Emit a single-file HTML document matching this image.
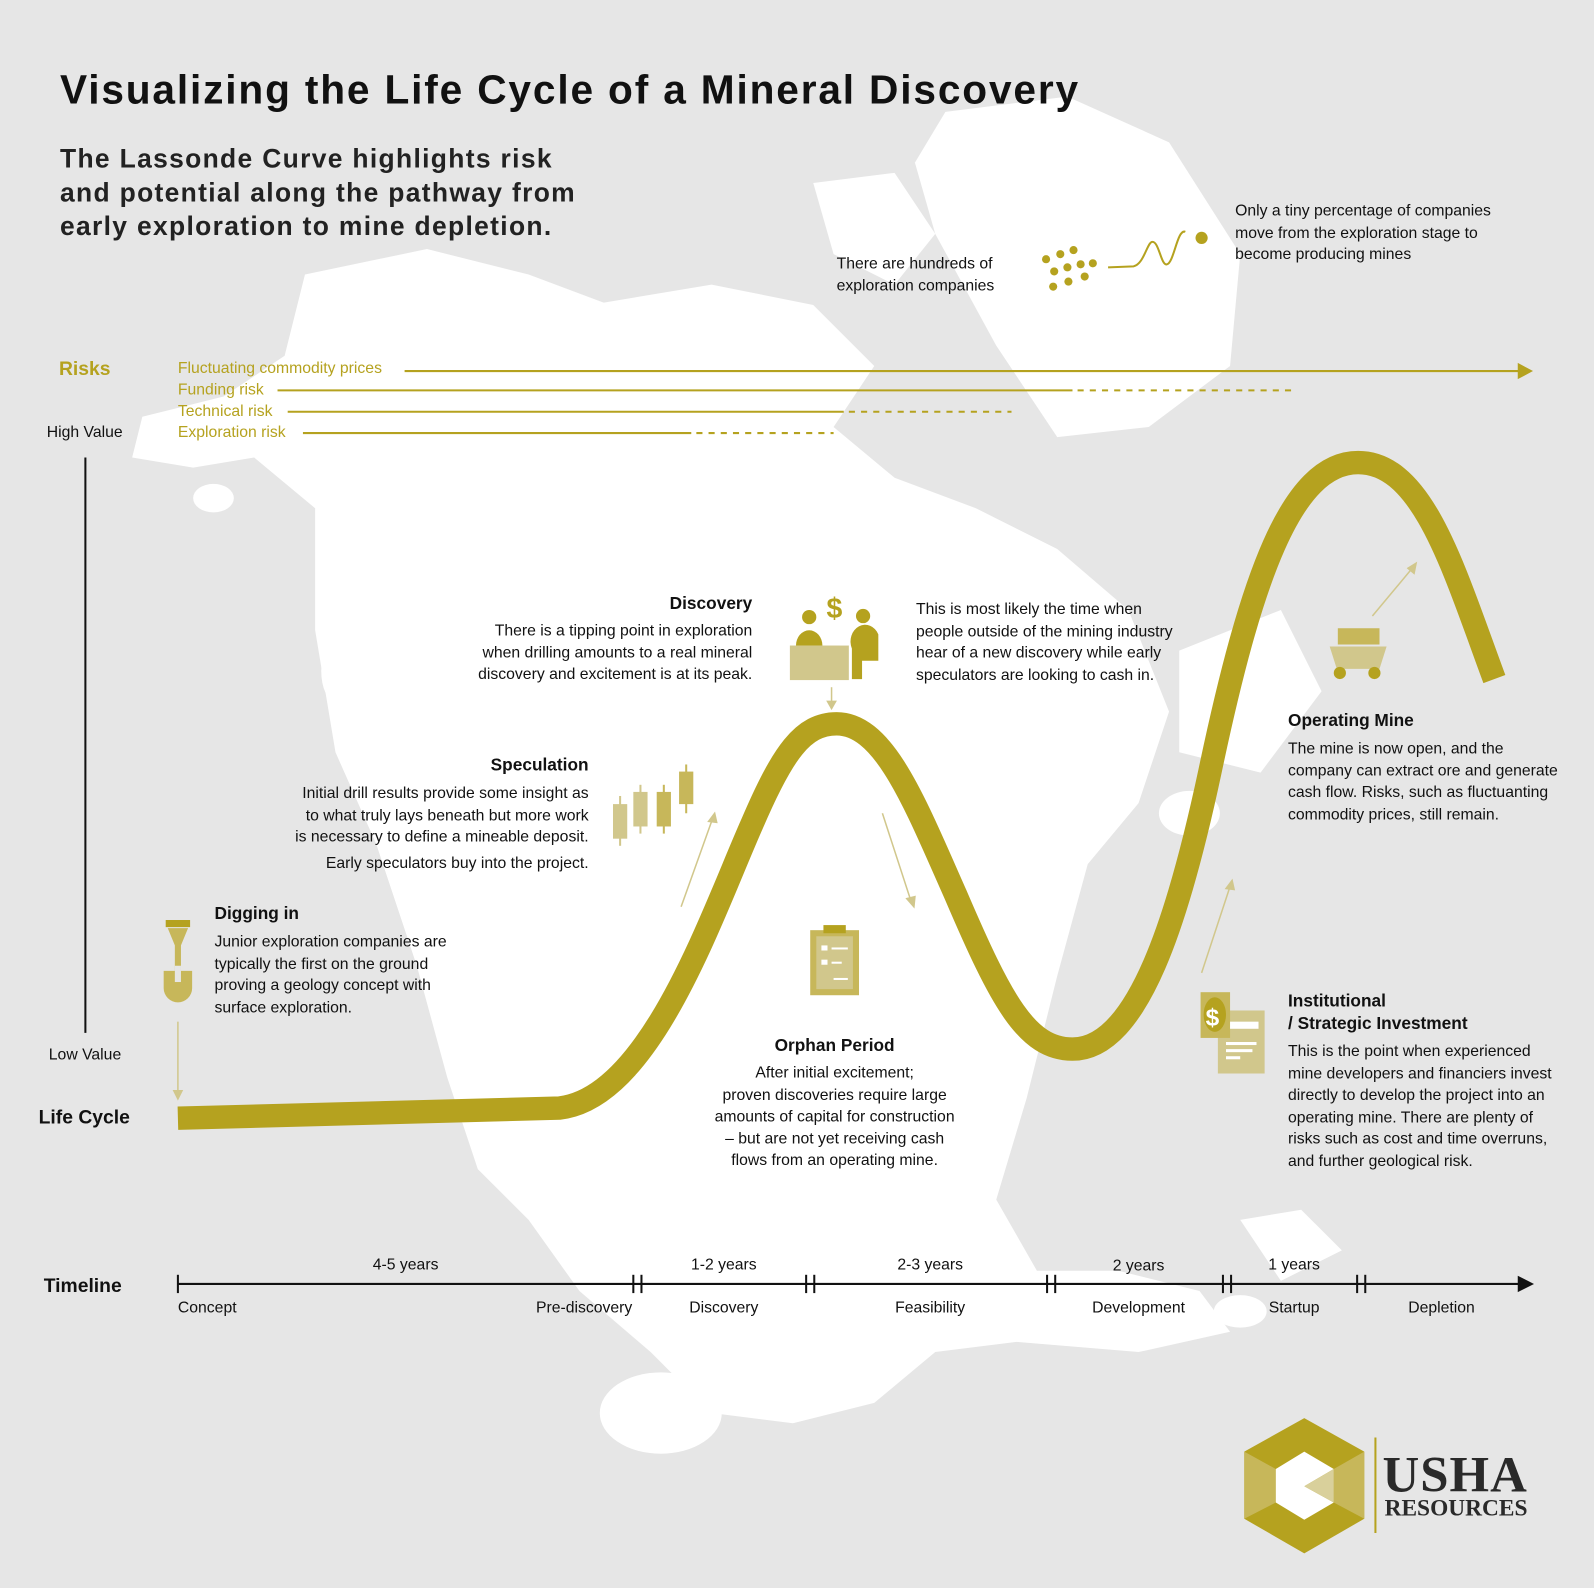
<!DOCTYPE html>
<html><head><meta charset="utf-8"><style>
html,body{margin:0;padding:0;background:#e6e6e6;}
body{width:1594px;height:1588px;overflow:hidden;position:relative;}
#f{position:absolute;left:0;top:0;width:1568px;height:1562px;transform:scale(1.01658);transform-origin:0 0;font-family:"Liberation Sans",sans-serif;color:#111;}
.t{position:absolute;white-space:nowrap;font-size:15.5px;line-height:21.5px;}
.r{text-align:right;}
.c{text-align:center;}
.h{font-weight:bold;font-size:17px;}
.g{color:#b5a21f;}
</style></head><body><div id="f">
<svg width="1568" height="1562" style="position:absolute;left:0;top:0">
<g fill="#fff">
<path d="M300,270 L420,245 L520,270 L600,300 L680,320 L760,360 L820,420 L880,470 L960,500 L1040,540 L1110,600 L1150,700 L1120,790 L1070,850 L1040,960 L1010,1080 L980,1180 L1020,1250 L1100,1250 L1180,1270 L1210,1310 L1120,1330 L1000,1320 L920,1330 L860,1380 L780,1400 L700,1390 L640,1330 L570,1270 L520,1200 L470,1150 L440,1060 L410,950 L370,830 L330,740 L310,620 L310,500 L250,450 L190,460 L130,450 L140,410 L220,390 L280,350 Z"/>
<path d="M930,110 L1050,95 L1150,140 L1220,250 L1210,360 L1130,420 L1040,430 L980,340 L920,230 L900,160 Z"/>
<path d="M580,300 L700,280 L800,300 L860,360 L820,420 L700,380 L600,360 Z"/>
<path d="M800,180 L880,170 L920,230 L880,280 L820,250 Z"/>
<path d="M1160,640 L1260,600 L1300,680 L1240,760 L1160,740 Z"/>
<path d="M1220,1200 L1280,1190 L1320,1230 L1260,1260 Z"/>
<ellipse cx="650" cy="1390" rx="60" ry="40"/>
<ellipse cx="330" cy="660" rx="14" ry="30"/>
<ellipse cx="210" cy="490" rx="20" ry="14"/>
<ellipse cx="1170" cy="800" rx="30" ry="22"/>
<ellipse cx="1220" cy="1290" rx="26" ry="16"/>
</g>
<g stroke="#b5a21f" stroke-width="2" fill="none">
<line x1="398" y1="365" x2="1495" y2="365"/>
<line x1="273" y1="384" x2="1055" y2="384"/>
<line x1="1060" y1="384" x2="1270" y2="384" stroke-dasharray="6,6"/>
<line x1="283" y1="405" x2="830" y2="405"/>
<line x1="835" y1="405" x2="995" y2="405" stroke-dasharray="6,6"/>
<line x1="298" y1="426" x2="680" y2="426"/>
<line x1="685" y1="426" x2="820" y2="426" stroke-dasharray="6,6"/>
<path d="M1090,263 L1115,262 C1125,260 1128,240 1133,238 C1140,236 1142,262 1148,260 C1155,258 1158,225 1166,228"/>
</g>
<polygon points="1493,357 1508,365 1493,373" fill="#b5a21f"/>
<g fill="#b5a21f"><circle cx="1182" cy="234" r="6"/>
<circle cx="1029" cy="255" r="4"/><circle cx="1043" cy="250" r="4"/><circle cx="1056" cy="246" r="4"/><circle cx="1037" cy="267" r="4"/><circle cx="1050" cy="263" r="4"/><circle cx="1063" cy="260" r="4"/><circle cx="1075" cy="259" r="4"/><circle cx="1036" cy="282" r="4"/><circle cx="1051" cy="277" r="4"/><circle cx="1067" cy="272" r="4"/></g>
<line x1="84" y1="450" x2="84" y2="1016" stroke="#111" stroke-width="2"/>
<path d="M175,1100 L550,1090 C640,1080 700,900 740,810 C770,740 790,712 823,712 C870,712 900,790 940,880 C985,985 1010,1032 1055,1032 C1120,1032 1160,900 1190,760 C1230,570 1270,455 1336,455 C1400,455 1430,560 1470,668" fill="none" stroke="#b5a21f" stroke-width="23"/>
<g stroke="#d1c78c" stroke-width="1.5" fill="#d1c78c">
<line x1="175" y1="1005" x2="175" y2="1075"/><polygon points="171,1073 179,1073 175,1081"/>
<line x1="670" y1="892" x2="700" y2="808"/><polygon points="697,808 705,809 703,800"/>
<line x1="818" y1="676" x2="818" y2="692"/><polygon points="814,690 822,690 818,697"/>
<line x1="868" y1="800" x2="896" y2="886"/><polygon points="892,884 900,882 899,892"/>
<line x1="1182" y1="957" x2="1210" y2="872"/><polygon points="1206,874 1214,875 1212,866"/>
<line x1="1350" y1="606" x2="1390" y2="558"/><polygon points="1385,559 1391,564 1393,554"/>
</g>
<g fill="#c7b75a"><rect x="163" y="905" width="24" height="7" fill="#b5a21f"/><polygon points="165,913 185,913 178,930 178,955 172,955 172,930"/><path d="M161,955 L189,955 L189,972 A14,14 0 0 1 161,972Z"/><rect x="172" y="950" width="6" height="16" fill="#e6e6e6"/></g>
<g fill="#d1c78c" stroke="#d1c78c" stroke-width="2"><line x1="610" y1="783" x2="610" y2="832"/><rect x="604" y="792" width="12" height="32"/><line x1="630" y1="772" x2="630" y2="820"/><rect x="624" y="780" width="12" height="32"/></g>
<g fill="#c7b75a" stroke="#c7b75a" stroke-width="2"><line x1="653" y1="772" x2="653" y2="820"/><rect x="647" y="780" width="12" height="32"/><line x1="675" y1="752" x2="675" y2="800"/><rect x="669" y="760" width="12" height="30"/></g>
<g fill="#b5a21f"><circle cx="796" cy="607" r="7"/><path d="M783,635 A13,15 0 0 1 809,635Z"/><circle cx="849" cy="606" r="7"/><path d="M838,638 A14,16 0 0 1 864,624 L864,650 L848,650 L848,668 L838,668Z"/></g>
<rect x="777" y="635" width="58" height="34" fill="#d1c78c"/><rect x="826" y="620" width="8" height="15" fill="#fff"/>
<text x="813" y="608" font-family="Liberation Sans" font-size="28" fill="#b5a21f" font-weight="bold">$</text>
<rect x="797" y="915" width="48" height="64" fill="#c7b75a"/><rect x="803" y="921" width="36" height="52" fill="#d1c78c"/><rect x="810" y="910" width="22" height="8" fill="#b5a21f"/>
<g fill="#fff"><rect x="808" y="930" width="6" height="5"/><rect x="818" y="932" width="16" height="2"/><rect x="808" y="944" width="6" height="5"/><rect x="818" y="946" width="10" height="2"/><rect x="820" y="962" width="14" height="2"/></g>
<rect x="1198" y="994" width="46" height="62" fill="#d1c78c"/><rect x="1181" y="976" width="29" height="45" fill="#c7b75a"/><ellipse cx="1195" cy="998" rx="11" ry="17" fill="#b5a21f"/>
<text x="1186" y="1009" font-family="Liberation Sans" font-size="24" font-weight="bold" fill="#fff">$</text>
<g fill="#fff"><rect x="1210" y="1005" width="28" height="7"/><rect x="1206" y="1025" width="30" height="3"/><rect x="1206" y="1032" width="26" height="3"/><rect x="1206" y="1039" width="14" height="3"/></g>
<rect x="1316" y="618" width="41" height="16" fill="#c7b75a"/><polygon points="1308,636 1364,636 1357,658 1315,658" fill="#d1c78c"/><circle cx="1318" cy="662" r="6" fill="#b5a21f"/><circle cx="1352" cy="662" r="6" fill="#b5a21f"/>
<g stroke="#111" stroke-width="2"><line x1="175" y1="1263" x2="1495" y2="1263"/><line x1="175" y1="1254" x2="175" y2="1272"/>
<line x1="623" y1="1254" x2="623" y2="1272"/><line x1="631" y1="1254" x2="631" y2="1272"/>
<line x1="793" y1="1254" x2="793" y2="1272"/><line x1="801" y1="1254" x2="801" y2="1272"/>
<line x1="1030" y1="1254" x2="1030" y2="1272"/><line x1="1038" y1="1254" x2="1038" y2="1272"/>
<line x1="1203" y1="1254" x2="1203" y2="1272"/><line x1="1211" y1="1254" x2="1211" y2="1272"/>
<line x1="1335" y1="1254" x2="1335" y2="1272"/><line x1="1343" y1="1254" x2="1343" y2="1272"/></g>
<polygon points="1493,1255 1509,1263 1493,1271" fill="#111"/>
<polygon points="1283,1395 1342,1428 1342,1494 1283,1528 1224,1494 1224,1428" fill="#b5a21f"/>
<polygon points="1224,1428 1255,1445 1255,1478 1224,1494" fill="#c7b75a"/>
<polygon points="1342,1428 1312,1445 1312,1478 1342,1494" fill="#c7b75a"/>
<polygon points="1283,1428 1312,1445 1283,1462 1312,1478 1283,1495 1255,1478 1255,1445" fill="#fff"/>
<polygon points="1283,1462 1312,1445 1312,1478" fill="#d9d09b"/>
<line x1="1353" y1="1414" x2="1353" y2="1508" stroke="#b5a21f" stroke-width="2"/>
</svg>
<div class="t" style="left:59px;top:64px;font-size:40px;line-height:50px;font-weight:bold;letter-spacing:1.8px">Visualizing the Life Cycle of a Mineral Discovery</div>
<div class="t" style="left:59px;top:140px;font-size:26px;line-height:33px;font-weight:bold;letter-spacing:1.3px;color:#222">The Lassonde Curve highlights risk<br>and potential along the pathway from<br>early exploration to mine depletion.</div>
<div class="t" style="left:1215px;top:197px">Only a tiny percentage of companies<br>move from the exploration stage to<br>become producing mines</div>
<div class="t" style="left:823px;top:249px">There are hundreds of<br>exploration companies</div>
<div class="t g" style="left:58px;top:351px;font-size:19px;font-weight:bold;line-height:26px">Risks</div>
<div class="t g" style="left:175px;top:352px">Fluctuating commodity prices</div>
<div class="t g" style="left:175px;top:373px">Funding risk</div>
<div class="t g" style="left:175px;top:394px">Technical risk</div>
<div class="t g" style="left:175px;top:415px">Exploration risk</div>
<div class="t" style="left:46px;top:415px">High Value</div>
<div class="t" style="left:48px;top:1027px">Low Value</div>
<div class="t" style="left:38px;top:1087px;font-size:19px;font-weight:bold;line-height:26px">Life Cycle</div>
<div class="t" style="left:43px;top:1253px;font-size:19px;font-weight:bold;line-height:26px">Timeline</div>
<div class="t h" style="left:211px;top:888px">Digging in</div>
<div class="t" style="left:211px;top:916px">Junior exploration companies are<br>typically the first on the ground<br>proving a geology concept with<br>surface exploration.</div>
<div class="t h r" style="right:989px;top:742px">Speculation</div>
<div class="t r" style="right:989px;top:770px">Initial drill results provide some insight as<br>to what truly lays beneath but more work<br>is necessary to define a mineable deposit.</div>
<div class="t r" style="right:989px;top:839px">Early speculators buy into the project.</div>
<div class="t h r" style="right:828px;top:583px">Discovery</div>
<div class="t r" style="right:828px;top:610px">There is a tipping point in exploration<br>when drilling amounts to a real mineral<br>discovery and excitement is at its peak.</div>
<div class="t" style="left:901px;top:589px">This is most likely the time when<br>people outside of the mining industry<br>hear of a new discovery while early<br>speculators are looking to cash in.</div>
<div class="t h c" style="left:671px;width:300px;top:1018px">Orphan Period</div>
<div class="t c" style="left:671px;width:300px;top:1045px">After initial excitement;<br>proven discoveries require large<br>amounts of capital for construction<br>– but are not yet receiving cash<br>flows from an operating mine.</div>
<div class="t h" style="left:1267px;top:698px">Operating Mine</div>
<div class="t" style="left:1267px;top:726px">The mine is now open, and the<br>company can extract ore and generate<br>cash flow. Risks, such as fluctuanting<br>commodity prices, still remain.</div>
<div class="t h" style="left:1267px;top:974px;line-height:22px">Institutional<br>/ Strategic Investment</div>
<div class="t" style="left:1267px;top:1024px">This is the point when experienced<br>mine developers and financiers invest<br>directly to develop the project into an<br>operating mine. There are plenty of<br>risks such as cost and time overruns,<br>and further geological risk.</div>
<div class="t c" style="left:299px;width:200px;top:1234px">4-5 years</div>
<div class="t c" style="left:612px;width:200px;top:1234px">1-2 years</div>
<div class="t c" style="left:815px;width:200px;top:1234px">2-3 years</div>
<div class="t c" style="left:1020px;width:200px;top:1235px">2 years</div>
<div class="t c" style="left:1173px;width:200px;top:1234px">1 years</div>
<div class="t" style="left:175px;top:1276px">Concept</div>
<div class="t r" style="right:946px;top:1276px">Pre-discovery</div>
<div class="t c" style="left:612px;width:200px;top:1276px">Discovery</div>
<div class="t c" style="left:815px;width:200px;top:1276px">Feasibility</div>
<div class="t c" style="left:1020px;width:200px;top:1276px">Development</div>
<div class="t c" style="left:1173px;width:200px;top:1276px">Startup</div>
<div class="t c" style="left:1318px;width:200px;top:1276px">Depletion</div>
<div class="t" style="left:1360px;top:1422px;font-family:'Liberation Serif',serif;font-weight:900;font-size:50px;line-height:56px;color:#2a2a2a;letter-spacing:1px">USHA</div>
<div class="t" style="left:1362px;top:1470px;font-family:'Liberation Serif',serif;font-weight:900;font-size:23px;line-height:28px;color:#2a2a2a">RESOURCES</div>
</div></body></html>
